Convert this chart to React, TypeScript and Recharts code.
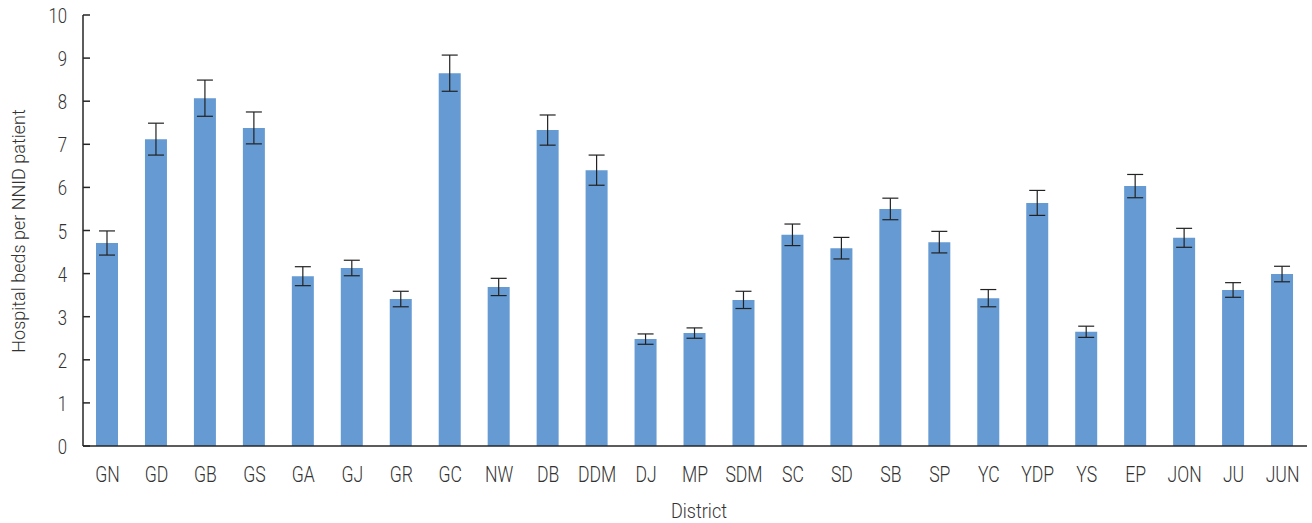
import React from 'react';
import { BarChart, Bar, XAxis, YAxis, ErrorBar, Label } from 'recharts';

// District codes along the x axis
const districts = [
  'GN', 'GD', 'GB', 'GS', 'GA', 'GJ', 'GR', 'GC', 'NW', 'DB', 'DDM', 'DJ', 'MP',
  'SDM', 'SC', 'SD', 'SB', 'SP', 'YC', 'YDP', 'YS', 'EP', 'JON', 'JU', 'JUN',
];

// Hospital beds per NNID patient, per district
const bedsPerPatient = [
  4.71, 7.12, 8.07, 7.38, 3.94, 4.13, 3.41, 8.65, 3.69, 7.33, 6.40, 2.48, 2.62,
  3.39, 4.90, 4.59, 5.50, 4.73, 3.43, 5.64, 2.65, 6.03, 4.83, 3.62, 3.99,
];

// Half-length of each error bar
const errorMargins = [
  0.28, 0.37, 0.42, 0.37, 0.22, 0.18, 0.18, 0.42, 0.2, 0.35, 0.35, 0.12, 0.12,
  0.2, 0.25, 0.25, 0.25, 0.25, 0.2, 0.29, 0.13, 0.27, 0.22, 0.17, 0.18,
];

const yTicks = [0, 1, 2, 3, 4, 5, 6, 7, 8, 9, 10];

const data = districts.map((district, i) => ({
  district,
  value: bedsPerPatient[i],
  err: errorMargins[i],
}));

const FONT = 'Roboto, "Noto Sans", sans-serif';
const TEXT_COLOR = '#333333';
const AXIS_COLOR = '#262626';
const BAR_COLOR = '#659ad2';
const SQUEEZE = 0.8;

const Y_TICK_MARGIN = 16;

function YTick(props: any) {
  const { x, y, payload } = props;
  const axisX = x + Y_TICK_MARGIN;
  return (
    <g>
      <line x1={axisX} x2={axisX + 7} y1={y} y2={y} stroke={AXIS_COLOR} strokeWidth={1.5} />
      <text
        transform={`translate(${x},${y + 8}) scale(${SQUEEZE},1)`}
        textAnchor="end"
        fontFamily={FONT}
        fontWeight={300}
        fontSize={21}
        fill={TEXT_COLOR}
      >
        {payload.value}
      </text>
    </g>
  );
}

function XTick(props: any) {
  const { x, y, payload } = props;
  return (
    <text
      transform={`translate(${x},${y + 36}) scale(${SQUEEZE},1)`}
      textAnchor="middle"
      fontFamily={FONT}
      fontWeight={300}
      fontSize={22}
      fill={TEXT_COLOR}
    >
      {payload.value}
    </text>
  );
}

export default function App() {
  return (
    <div style={{ position: 'absolute', left: 0, top: 0, width: 1312, height: 523, background: '#fff' }}>
      <BarChart
        width={1312}
        height={523}
        data={data}
        margin={{ top: 15, right: 5, bottom: 0, left: 0 }}
        barSize={22}
      >
        <XAxis
          dataKey="district"
          height={77}
          tickLine={false}
          tickSize={0}
          tickMargin={0}
          interval={0}
          axisLine={{ stroke: AXIS_COLOR, strokeWidth: 1.5 }}
          tick={(p: any) => <XTick {...p} />}
        >
          <Label
            content={() => (
              <text
                transform={`translate(699,518) scale(0.88,1)`}
                textAnchor="middle"
                fontFamily={FONT}
                fontWeight={300}
                fontSize={20.5}
                fill={TEXT_COLOR}
              >
                District
              </text>
            )}
          />
        </XAxis>
        <YAxis
          width={83}
          domain={[0, 10]}
          ticks={yTicks}
          interval={0}
          tickLine={false}
          tickSize={0}
          tickMargin={Y_TICK_MARGIN}
          axisLine={{ stroke: AXIS_COLOR, strokeWidth: 1.5 }}
          tick={(p: any) => <YTick {...p} />}
        >
          <Label
            content={() => (
              <text
                transform="translate(25,231) rotate(-90)"
                textAnchor="middle"
                fontFamily={FONT}
                fontWeight={300}
                fontSize={18}
                fill={TEXT_COLOR}
              >
                Hospital beds per NNID patient
              </text>
            )}
          />
        </YAxis>
        <Bar dataKey="value" fill={BAR_COLOR} isAnimationActive={false}>
          <ErrorBar dataKey="err" width={8} stroke="#222222" strokeWidth={1.2} />
        </Bar>
      </BarChart>
    </div>
  );
}
